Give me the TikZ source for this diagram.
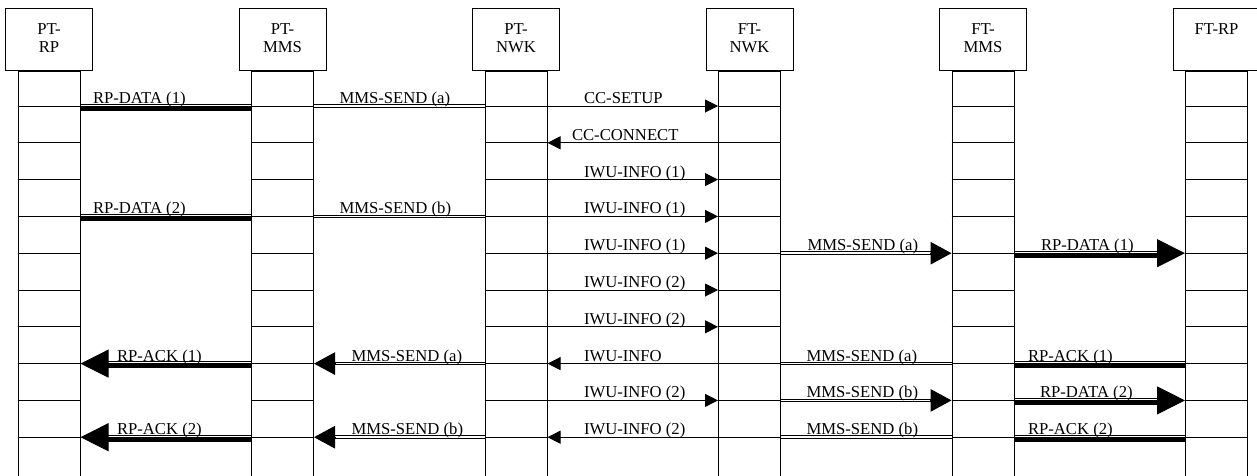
\documentclass[tikz,border=0pt]{standalone}
\usepackage{fontspec}
\setmainfont{Liberation Serif}
\usetikzlibrary{positioning,arrows.meta}

\begin{document}
\begin{tikzpicture}[x=0.6pt, y=-0.6pt, every node/.style={font=\fontsize{10}{10.8}\selectfont},
    hdr/.style={draw, line width=0.6pt, minimum width=52.2pt, minimum height=37.2pt, inner sep=0pt},
    hdrtxt/.style={anchor=north, inner sep=0pt, yshift=-9.3pt, align=center},
    life/.style={draw, line width=0.6pt, minimum width=37.2pt, minimum height=250pt, inner sep=0pt},
    sig/.style={line width=0.6pt},
    tipR/.style={-{Triangle[length=7.8pt,width=7.8pt]}},
    tipL/.style={{Triangle[length=7.8pt,width=7.8pt]}-},
    dbl/.style={double, line width=0.6pt, double distance=0.9pt},
    rpbar/.style={line width=3pt, transform canvas={yshift=-1.2pt}},
    rpthin/.style={line width=0.6pt, transform canvas={yshift=1.2pt}},
    lbl/.style={anchor=base west, inner sep=0pt, at start, yshift=1.5pt},
    rplbl/.style={anchor=base west, inner sep=0pt, at start, yshift=0.3pt},
    mmshead/.style={line width=0.6pt, -{Triangle[length=12.6pt,width=13.5pt]}},
    rphead/.style={line width=0.6pt, -{Triangle[length=16.8pt,width=16.8pt]}}]
  \useasboundingbox (0,0) rectangle (1257,475);

  % entities
  \node[hdr, label={[hdrtxt]north:{PT-\\RP}}] (ptrp) at (49,39) {};
  \node[hdr, label={[hdrtxt]north:{PT-\\MMS}}] (ptmms) at (282.5,39) {};
  \node[hdr, label={[hdrtxt]north:{PT-\\NWK}}] (ptnwk) at (516,39) {};
  \node[hdr, label={[hdrtxt]north:{FT-\\NWK}}] (ftnwk) at (749.5,39) {};
  \node[hdr, label={[hdrtxt]north:{FT-\\MMS}}] (ftmms) at (983,39) {};
  \node[hdr, label={[hdrtxt]north:{FT-RP}}] (ftrp) at (1216.5,39) {};
  \foreach \c in {ptrp,ptmms,ptnwk,ftnwk,ftmms,ftrp} \node[life, below=0pt of \c] (\c-c) {};

  % rows
  \foreach \i in {1,...,10} \coordinate (r\i) at (0,{106+36.8*(\i-1)});
  \foreach \c in {ptrp,ptmms,ptnwk,ftnwk,ftmms,ftrp} \foreach \i in {1,...,10}
    \draw[sig] (\c-c.west |- r\i) -- (\c-c.east |- r\i);

  % row 1
  \draw[rpbar] (ptrp-c.east |- r1) -- (ptmms-c.west |- r1);
  \draw[rpthin] (ptrp-c.east |- r1) -- (ptmms-c.west |- r1) node[rplbl, xshift=7.2pt] {RP-DATA (1)};
  \draw[dbl] (ptmms-c.east |- r1) -- (ptnwk-c.west |- r1) node[lbl, xshift=15pt] {MMS-SEND (a)};
  \draw[sig, tipR] (ptnwk-c.east |- r1) -- (ftnwk-c.west |- r1) node[lbl, xshift=21.6pt] {CC-SETUP};
  % row 2
  \draw[sig, tipL] (ptnwk-c.east |- r2) -- (ftnwk-c.west |- r2) node[lbl, xshift=14.4pt] {CC-CONNECT};
  % row 3
  \draw[sig, tipR] (ptnwk-c.east |- r3) -- (ftnwk-c.west |- r3) node[lbl, xshift=21.6pt] {IWU-INFO (1)};
  % row 4
  \draw[rpbar] (ptrp-c.east |- r4) -- (ptmms-c.west |- r4);
  \draw[rpthin] (ptrp-c.east |- r4) -- (ptmms-c.west |- r4) node[rplbl, xshift=7.2pt] {RP-DATA (2)};
  \draw[dbl] (ptmms-c.east |- r4) -- (ptnwk-c.west |- r4) node[lbl, xshift=15pt] {MMS-SEND (b)};
  \draw[sig, tipR] (ptnwk-c.east |- r4) -- (ftnwk-c.west |- r4) node[lbl, xshift=21.6pt] {IWU-INFO (1)};
  % row 5
  \draw[sig, tipR] (ptnwk-c.east |- r5) -- (ftnwk-c.west |- r5) node[lbl, xshift=21.6pt] {IWU-INFO (1)};
  \draw[dbl, shorten >=6pt] (ftnwk-c.east |- r5) -- (ftmms-c.west |- r5) node[lbl, xshift=15.6pt] {MMS-SEND (a)};
  \draw[mmshead] ([xshift=-13pt]ftmms-c.west |- r5) -- (ftmms-c.west |- r5);
  \draw[rpbar, shorten >=8pt] (ftmms-c.east |- r5) -- (ftrp-c.west |- r5);
  \draw[rpthin, shorten >=8pt] (ftmms-c.east |- r5) -- (ftrp-c.west |- r5) node[rplbl, xshift=15.6pt] {RP-DATA (1)};
  \draw[rphead] ([xshift=-17pt]ftrp-c.west |- r5) -- (ftrp-c.west |- r5);
  % rows 6, 7
  \draw[sig, tipR] (ptnwk-c.east |- r6) -- (ftnwk-c.west |- r6) node[lbl, xshift=21.6pt] {IWU-INFO (2)};
  \draw[sig, tipR] (ptnwk-c.east |- r7) -- (ftnwk-c.west |- r7) node[lbl, xshift=21.6pt] {IWU-INFO (2)};
  % row 8
  \draw[rpbar, shorten <=8pt] (ptrp-c.east |- r8) -- (ptmms-c.west |- r8);
  \draw[rpthin, shorten <=8pt] (ptrp-c.east |- r8) -- (ptmms-c.west |- r8) node[rplbl, xshift=21.6pt] {RP-ACK (1)};
  \draw[rphead] ([xshift=17pt]ptrp-c.east |- r8) -- (ptrp-c.east |- r8);
  \draw[dbl, shorten <=6pt] (ptmms-c.east |- r8) -- (ptnwk-c.west |- r8) node[lbl, xshift=22.2pt] {MMS-SEND (a)};
  \draw[mmshead] ([xshift=13pt]ptmms-c.east |- r8) -- (ptmms-c.east |- r8);
  \draw[sig, tipL] (ptnwk-c.east |- r8) -- (ftnwk-c.west |- r8) node[lbl, xshift=21.6pt] {IWU-INFO};
  \draw[dbl] (ftnwk-c.east |- r8) -- (ftmms-c.west |- r8) node[lbl, xshift=15pt] {MMS-SEND (a)};
  \draw[rpbar] (ftmms-c.east |- r8) -- (ftrp-c.west |- r8);
  \draw[rpthin] (ftmms-c.east |- r8) -- (ftrp-c.west |- r8) node[rplbl, xshift=7.8pt] {RP-ACK (1)};
  % row 9
  \draw[sig, tipR] (ptnwk-c.east |- r9) -- (ftnwk-c.west |- r9) node[lbl, xshift=21.6pt] {IWU-INFO (2)};
  \draw[dbl, shorten >=6pt] (ftnwk-c.east |- r9) -- (ftmms-c.west |- r9) node[lbl, xshift=15pt] {MMS-SEND (b)};
  \draw[mmshead] ([xshift=-13pt]ftmms-c.west |- r9) -- (ftmms-c.west |- r9);
  \draw[rpbar, shorten >=8pt] (ftmms-c.east |- r9) -- (ftrp-c.west |- r9);
  \draw[rpthin, shorten >=8pt] (ftmms-c.east |- r9) -- (ftrp-c.west |- r9) node[rplbl, xshift=15pt] {RP-DATA (2)};
  \draw[rphead] ([xshift=-17pt]ftrp-c.west |- r9) -- (ftrp-c.west |- r9);
  % row 10
  \draw[rpbar, shorten <=8pt] (ptrp-c.east |- r10) -- (ptmms-c.west |- r10);
  \draw[rpthin, shorten <=8pt] (ptrp-c.east |- r10) -- (ptmms-c.west |- r10) node[rplbl, xshift=21.6pt] {RP-ACK (2)};
  \draw[rphead] ([xshift=17pt]ptrp-c.east |- r10) -- (ptrp-c.east |- r10);
  \draw[dbl, shorten <=6pt] (ptmms-c.east |- r10) -- (ptnwk-c.west |- r10) node[lbl, xshift=22.2pt] {MMS-SEND (b)};
  \draw[mmshead] ([xshift=13pt]ptmms-c.east |- r10) -- (ptmms-c.east |- r10);
  \draw[sig, tipL] (ptnwk-c.east |- r10) -- (ftnwk-c.west |- r10) node[lbl, xshift=21.6pt] {IWU-INFO (2)};
  \draw[dbl] (ftnwk-c.east |- r10) -- (ftmms-c.west |- r10) node[lbl, xshift=15pt] {MMS-SEND (b)};
  \draw[rpbar] (ftmms-c.east |- r10) -- (ftrp-c.west |- r10);
  \draw[rpthin] (ftmms-c.east |- r10) -- (ftrp-c.west |- r10) node[rplbl, xshift=7.8pt] {RP-ACK (2)};
\end{tikzpicture}
\end{document}
